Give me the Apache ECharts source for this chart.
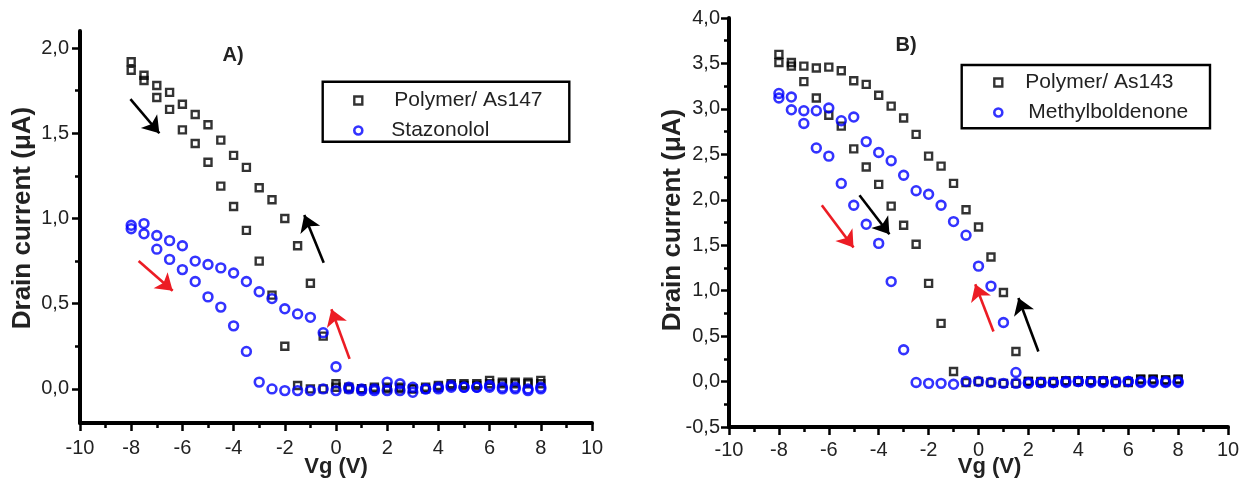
<!DOCTYPE html>
<html>
<head>
<meta charset="utf-8">
<script src="https://cdn.jsdelivr.net/npm/echarts@6/dist/echarts.min.js"></script>
<style>
html,body{margin:0;padding:0;background:#fff;}
#chart{width:1239px;height:478px;}
</style>
</head>
<body>
<div id="chart"></div>
<script>
// ---------- Data ----------
const vg = [-8,-7.5,-7,-6.5,-6,-5.5,-5,-4.5,-4,-3.5,-3,-2.5,-2,-1.5,-1,-0.5,0,0.5,1,1.5,2,2.5,3,3.5,4,4.5,5,5.5,6,6.5,7,7.5,8];

// Panel A
const polyA_upper = [1.92,1.84,1.78,1.74,1.67,1.61,1.55,1.46,1.37,1.30,1.18,1.11,1.00,0.84,0.62,0.31,0.03,0.01,0.00,0.00,0.01,0.00,0.00,0.01,0.02,0.03,0.03,0.03,0.05,0.04,0.04,0.04,0.05];
const polyA_lower = [1.87,1.81,1.71,1.64,1.52,1.44,1.33,1.19,1.07,0.93,0.75,0.55,0.25,0.02,0.00,0.00,0.01,0.00,0.00,0.01,0.00,0.01,0.00,0.00,0.01,0.02,0.02,0.02,0.03,0.03,0.03,0.03,0.03];
const staz_upper  = [0.96,0.97,0.90,0.87,0.84,0.75,0.73,0.71,0.68,0.63,0.57,0.53,0.47,0.44,0.42,0.33,0.13,0.01,0.00,0.00,0.04,0.03,0.01,0.00,0.01,0.02,0.01,0.01,0.02,0.00,0.01,-0.01,0.01];
const staz_lower  = [0.94,0.91,0.82,0.76,0.70,0.63,0.54,0.48,0.37,0.22,0.04,0.00,-0.01,-0.01,-0.01,0.00,-0.01,0.00,-0.01,-0.01,-0.01,-0.01,-0.02,0.00,0.00,0.01,0.01,0.01,0.01,0.01,0.00,0.00,0.00];

// Panel B
const polyB_upper = [3.60,3.51,3.47,3.45,3.46,3.42,3.31,3.27,3.15,3.03,2.90,2.72,2.48,2.37,2.18,1.89,1.70,1.37,0.98,0.33,0.00,-0.01,-0.01,0.00,0.00,0.00,0.00,-0.01,-0.01,0.02,0.02,0.01,0.02];
const polyB_lower = [3.51,3.47,3.30,3.12,2.93,2.81,2.56,2.36,2.17,1.93,1.72,1.51,1.08,0.64,0.11,-0.01,0.00,-0.01,-0.02,-0.02,0.00,0.00,0.00,0.01,0.01,0.01,0.01,0.00,0.00,0.03,0.03,0.02,0.03];
const meth_upper  = [3.17,3.13,2.98,2.98,3.01,2.87,2.91,2.64,2.52,2.43,2.27,2.10,2.06,1.94,1.76,1.61,1.27,1.05,0.65,0.10,-0.02,-0.01,-0.01,0.00,0.00,0.00,-0.01,0.00,0.00,-0.01,0.00,-0.01,0.00];
const meth_lower  = [3.12,2.99,2.84,2.57,2.48,2.18,1.94,1.73,1.52,1.10,0.35,-0.01,-0.02,-0.02,-0.03,0.00,0.00,-0.01,-0.02,-0.02,-0.01,-0.01,-0.01,-0.01,0.00,-0.01,0.00,-0.01,0.00,0.00,-0.01,0.00,-0.01];

// Tick labels
const yTicksA = [0,0.5,1,1.5,2];
const yMinorA = [0.25,0.75,1.25,1.75];

// Arrow annotations (data coordinates)
const arrowsA = [
  {from:[-8.03,1.70], to:[-6.9,1.50], color:'#000'},
  {from:[-0.48,0.74], to:[-1.24,1.02], color:'#000'},
  {from:[-7.71,0.75], to:[-6.38,0.576], color:'#ec1c24'},
  {from:[0.53,0.176], to:[-0.18,0.467], color:'#ec1c24'}
];
const arrowsB = [
  {from:[-4.77,2.05], to:[-3.57,1.62], color:'#000'},
  {from:[-6.28,1.94], to:[-5.01,1.475], color:'#ec1c24'},
  {from:[0.6,0.55], to:[-0.13,1.07], color:'#ec1c24'},
  {from:[2.4,0.33], to:[1.6,0.92], color:'#000'}
];

// ---------- Build ----------
const FONT = 'Liberation Sans, Arial, sans-serif';
const pairs = (up, lo) => vg.map((v,i)=>[v, up[i]]).concat(vg.map((v,i)=>[v, lo[i]]));
const fmt = v => (Math.round(v*10)/10).toFixed(1).replace('.', ',');

function xAxisCfg(gi, namePad, gap, margin){
  return {
    gridIndex: gi, type:'value', min:-10, max:10, interval:2,
    axisLine:{onZero:false, lineStyle:{color:'#000', width:4}},
    axisTick:{length:8, lineStyle:{color:'#000', width:2.5}},
    minorTick:{show:true, splitNumber:2, length:5, lineStyle:{color:'#000', width:2.5}},
    splitLine:{show:false}, minorSplitLine:{show:false},
    axisLabel:{fontSize:20, color:'#222', margin:margin, fontFamily:FONT},
    name:'Vg (V)', nameLocation:'middle', nameGap:gap, nameMoveOverlap:false,
    nameTextStyle:{fontWeight:'bold', fontSize:22, color:'#222', fontFamily:FONT, padding:namePad, lineHeight:20}
  };
}

function markArrows(list){
  return {
    silent:true, animation:false,
    symbol:['none','arrow'], symbolSize:16,
    label:{show:false},
    emphasis:{disabled:true},
    data: list.map(a => [
      {coord:a.from, lineStyle:{color:a.color, width:2.6, type:'solid'}, itemStyle:{color:a.color}},
      {coord:a.to}
    ])
  };
}

const sqStyle = {color:'rgba(0,0,0,0)', borderColor:'#000', borderWidth:2.4};
const ciStyle = {color:'rgba(0,0,0,0)', borderColor:'#0000ff', borderWidth:2.6};

const option = {
  animation:false,
  backgroundColor:'#fff',
  textStyle:{fontFamily:FONT},
  grid:[
    {left:80, top:31, width:512, height:392, outerBoundsMode:'none', containLabel:false},
    {left:729, top:18, width:499, height:409, outerBoundsMode:'none', containLabel:false}
  ],
  xAxis:[ xAxisCfg(0,[0,0,0,0],34,15), xAxisCfg(1,[0,0,0,22],30,13) ],
  yAxis:[
    {
      gridIndex:0, type:'value', min:-0.2, max:2.1,
      axisLine:{onZero:false, show:true, lineStyle:{color:'#000', width:4}},
      axisTick:{show:true, length:8, lineStyle:{color:'#000', width:2.5}, customValues:yTicksA},
      axisLabel:{fontSize:20, color:'#222', margin:11, fontFamily:FONT, customValues:yTicksA, formatter:fmt},
      splitLine:{show:false},
      name:'Drain current (\u03bcA)', nameLocation:'middle', nameRotate:90, nameGap:44, nameMoveOverlap:false,
      nameTextStyle:{fontWeight:'bold', fontSize:26, color:'#222', fontFamily:FONT, padding:[0,0,0,18]}
    },
    {
      gridIndex:0, type:'value', min:-0.2, max:2.1, position:'left',
      axisLine:{show:false, onZero:false},
      axisTick:{show:true, length:5, lineStyle:{color:'#000', width:2.5}, customValues:yMinorA},
      axisLabel:{show:false},
      splitLine:{show:false}
    },
    {
      gridIndex:1, type:'value', min:-0.5, max:4, interval:0.5,
      axisLine:{onZero:false, show:true, lineStyle:{color:'#000', width:4}},
      axisTick:{show:true, length:8, lineStyle:{color:'#000', width:2.5}},
      minorTick:{show:true, splitNumber:2, length:5, lineStyle:{color:'#000', width:2.5}},
      axisLabel:{fontSize:20, color:'#222', margin:9, fontFamily:FONT, formatter:fmt},
      splitLine:{show:false}, minorSplitLine:{show:false},
      name:'Drain current (\u03bcA)', nameLocation:'middle', nameRotate:90, nameGap:43, nameMoveOverlap:false,
      nameTextStyle:{fontWeight:'bold', fontSize:26, color:'#222', fontFamily:FONT, padding:[0,0,0,5]}
    }
  ],
  legend:[
    {
      orient:'vertical', left:353, top:90, padding:0, itemWidth:8, itemHeight:8, itemGap:9,
      textStyle:{fontSize:21, color:'#222', fontFamily:FONT, lineHeight:20},
      selectedMode:false,
      data:[
        {name:'Polymer/ As147', icon:'rect', itemStyle:sqStyle, textStyle:{padding:[0,0,0,27]}},
        {name:'Stazonolol', icon:'circle', itemStyle:ciStyle, textStyle:{padding:[0,0,0,24]}}
      ]
    },
    {
      orient:'vertical', left:993, top:72, padding:0, itemWidth:8, itemHeight:8, itemGap:9,
      textStyle:{fontSize:21, color:'#222', fontFamily:FONT, lineHeight:20},
      selectedMode:false,
      data:[
        {name:'Polymer/ As143', icon:'rect', itemStyle:sqStyle, textStyle:{padding:[0,0,0,18]}},
        {name:'Methylboldenone', icon:'circle', itemStyle:ciStyle, textStyle:{padding:[0,0,0,21]}}
      ]
    }
  ],
  graphic:[
    {type:'rect', shape:{x:322.7, y:81.7, width:246.6, height:60}, style:{fill:'none', stroke:'#000', lineWidth:2.4}, silent:true},
    {type:'rect', shape:{x:961.7, y:65, width:248.3, height:63.3}, style:{fill:'none', stroke:'#000', lineWidth:2.4}, silent:true},
    {type:'text', x:233, y:55, style:{text:'A)', font:'bold 20px '+FONT, fill:'#222', align:'center', verticalAlign:'middle'}, silent:true},
    {type:'text', x:906, y:45, style:{text:'B)', font:'bold 20px '+FONT, fill:'#222', align:'center', verticalAlign:'middle'}, silent:true}
  ],
  series:[
    {name:'Polymer/ As147', type:'scatter', xAxisIndex:0, yAxisIndex:0, symbol:'rect', symbolSize:7, itemStyle:sqStyle, data:pairs(polyA_upper, polyA_lower), z:2},
    {name:'Stazonolol', type:'scatter', xAxisIndex:0, yAxisIndex:0, symbol:'circle', symbolSize:8.8, itemStyle:ciStyle, data:pairs(staz_upper, staz_lower), z:3},
    {name:'arrowsA', type:'line', xAxisIndex:0, yAxisIndex:0, data:[], markLine:markArrows(arrowsA), z:4},
    {name:'Polymer/ As143', type:'scatter', xAxisIndex:1, yAxisIndex:2, symbol:'rect', symbolSize:7, itemStyle:sqStyle, data:pairs(polyB_upper, polyB_lower), z:2},
    {name:'Methylboldenone', type:'scatter', xAxisIndex:1, yAxisIndex:2, symbol:'circle', symbolSize:8.8, itemStyle:ciStyle, data:pairs(meth_upper, meth_lower), z:3},
    {name:'arrowsB', type:'line', xAxisIndex:1, yAxisIndex:2, data:[], markLine:markArrows(arrowsB), z:4}
  ]
};

const chart = echarts.init(document.getElementById('chart'), null, {renderer:'canvas'});
chart.setOption(option);
</script>
</body>
</html>
